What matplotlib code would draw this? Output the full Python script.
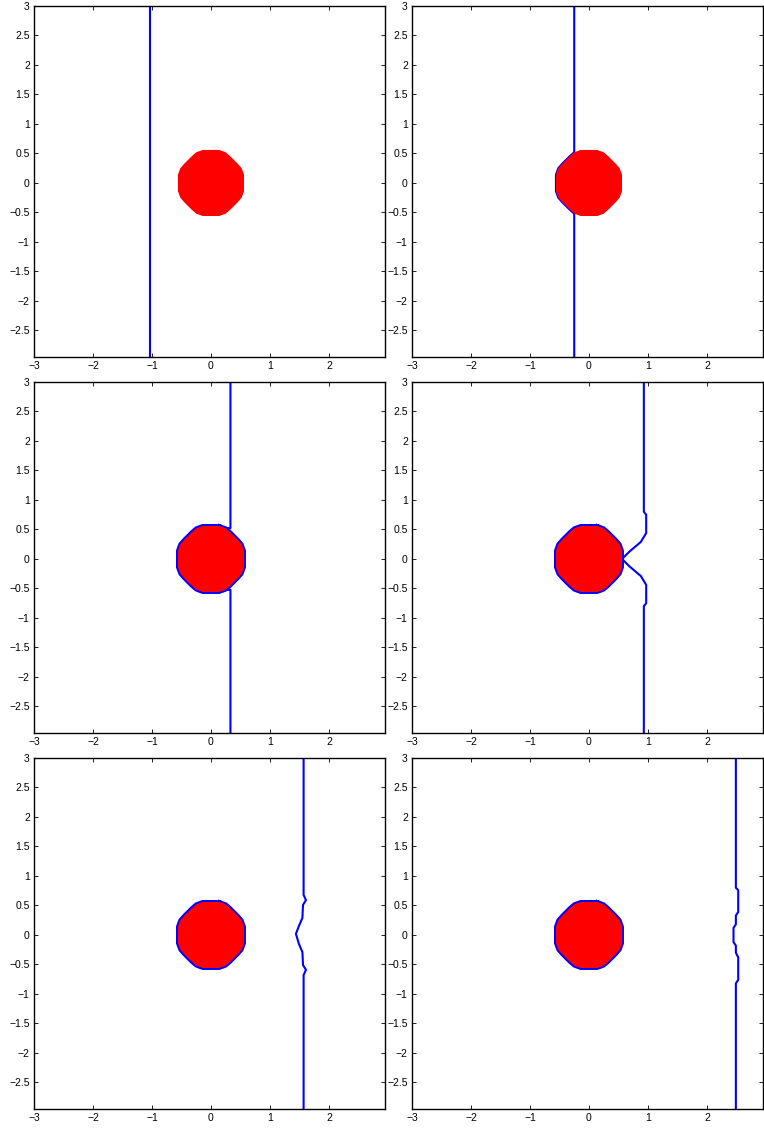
import matplotlib
matplotlib.use("Agg")
import matplotlib.pyplot as plt

plt.rcParams['font.family'] = ['Liberation Sans', 'DejaVu Sans']
plt.rcParams['axes.unicode_minus'] = True

# obstacle (red disk) outline vertices
disk_x = [0.14, 0.25, 0.33, 0.45, 0.52, 0.56, 0.56, 0.52, 0.45, 0.33, 0.25, 0.14,
          -0.14, -0.25, -0.33, -0.45, -0.52, -0.56, -0.56, -0.52, -0.45, -0.33, -0.25, -0.14]
disk_y = [0.56, 0.52, 0.45, 0.33, 0.25, 0.14, -0.14, -0.25, -0.33, -0.45, -0.52, -0.56,
          -0.56, -0.52, -0.45, -0.33, -0.25, -0.14, 0.14, 0.25, 0.33, 0.45, 0.52, 0.56]

# front position in each snapshot
front1_x = [-1.03, -1.03]
front1_y = [3.0, -2.95]

front2_x = [-0.25, -0.25, -0.33, -0.45, -0.52, -0.56, -0.56, -0.52, -0.45, -0.33, -0.25, -0.25]
front2_y = [3.0, 0.52, 0.45, 0.33, 0.25, 0.14, -0.14, -0.25, -0.33, -0.45, -0.52, -2.95]

front3_x = [0.33, 0.33, 0.22]
front3_y = [3.0, 0.52, 0.53]
front3b_x = [0.22, 0.33, 0.33]
front3b_y = [-0.53, -0.52, -2.95]

front4_x = [0.93, 0.93, 0.97, 0.97, 0.88, 0.68, 0.59, 0.57,
            0.59, 0.68, 0.88, 0.97, 0.97, 0.93, 0.93]
front4_y = [3.0, 0.80, 0.75, 0.44, 0.29, 0.12, 0.03, 0.0,
            -0.03, -0.12, -0.29, -0.44, -0.75, -0.80, -2.95]

front5_x = [1.57, 1.57, 1.61, 1.56, 1.55, 1.49, 1.44,
            1.49, 1.55, 1.56, 1.61, 1.57, 1.57]
front5_y = [3.0, 0.68, 0.59, 0.51, 0.29, 0.15, 0.02,
            -0.15, -0.29, -0.51, -0.59, -0.68, -2.95]

front6_x = [2.49, 2.49, 2.53, 2.53, 2.49, 2.49, 2.45, 2.45,
            2.49, 2.49, 2.53, 2.53, 2.49, 2.49]
front6_y = [3.0, 0.80, 0.76, 0.39, 0.33, 0.18, 0.12, -0.12,
            -0.18, -0.30, -0.38, -0.76, -0.82, -2.95]

fronts = [
    [(front1_x, front1_y)],
    [(front2_x, front2_y)],
    [(front3_x, front3_y), (front3b_x, front3b_y)],
    [(front4_x, front4_y)],
    [(front5_x, front5_y)],
    [(front6_x, front6_y)],
]
# whether the front has wrapped fully around the obstacle
wrapped = [False, False, True, True, True, True]

x_ticks = [-3, -2, -1, 0, 1, 2]
y_ticks = [-2.5, -2, -1.5, -1, -0.5, 0, 0.5, 1, 1.5, 2, 2.5, 3]

fig = plt.figure(figsize=(7.64, 11.28), dpi=100)

lefts = [34 / 764, 412 / 764]
bottoms = [771 / 1128, 395 / 1128, 19 / 1128]
w = 351 / 764
h = 351 / 1128

for i in range(6):
    r, c = divmod(i, 2)
    ax = fig.add_axes([lefts[c], bottoms[r], w, h])
    if wrapped[i]:
        ax.plot(disk_x + disk_x[:1], disk_y + disk_y[:1], color='blue', lw=2.8, zorder=2)
    for fx, fy in fronts[i]:
        ax.plot(fx, fy, color='blue', lw=1.5, zorder=2)
    ax.fill(disk_x, disk_y, color='red', lw=0, zorder=3)
    ax.set_xlim(-3, 2.95)
    ax.set_ylim(-2.95, 3)
    ax.set_xticks(x_ticks)
    ax.set_yticks(y_ticks)
    ax.set_xticklabels([('%g' % t).replace('-', '\u2212') for t in x_ticks])
    ax.set_yticklabels([('%g' % t).replace('-', '\u2212') for t in y_ticks])
    ax.tick_params(direction='in', top=True, right=True, labelsize=7.5,
                   length=3, width=0.6, pad=3)
    for s in ax.spines.values():
        s.set_linewidth(1.0)

fig.savefig('out.png', dpi=100)
